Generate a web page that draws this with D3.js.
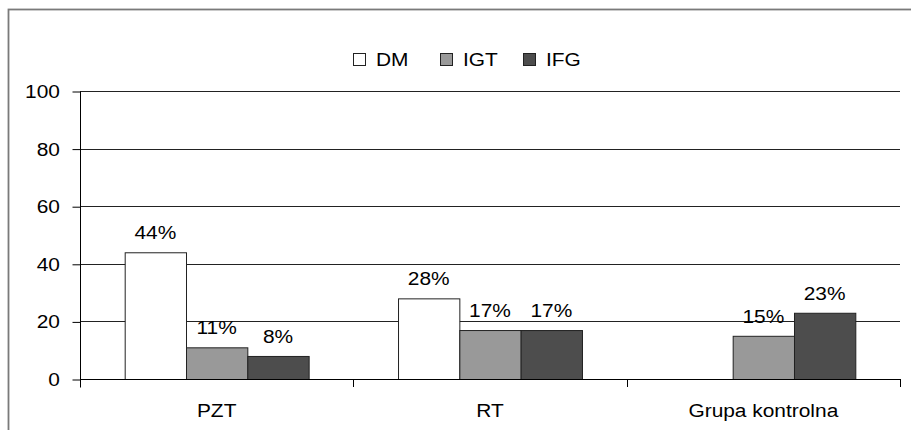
<!DOCTYPE html>
<html>
<head>
<meta charset="utf-8">
<script src="https://cdn.jsdelivr.net/npm/d3@7/dist/d3.min.js"></script>
<style>
  html, body { margin: 0; padding: 0; background: #fff; }
  svg { display: block; }
  text { font-family: Arial, "Liberation Sans", sans-serif; fill: #000; }
</style>
</head>
<body>
<svg id="chart" width="911" height="430"></svg>
<script>
// Groups on the x axis
const categories = ["PZT", "RT", "Grupa kontrolna"];
// Series names
const seriesNames = ["DM", "IGT", "IFG"];
// Percentages per group (null = no bar)
const dmValues  = [44, 28, null];
const igtValues = [11, 17, 15];
const ifgValues = [8, 17, 23];
// Y axis ticks
const yTicks = [0, 20, 40, 60, 80, 100];

const seriesColors = ["#ffffff", "#999999", "#4d4d4d"];
const seriesValues = [dmValues, igtValues, ifgValues];

const svg = d3.select("#chart");
const stretch = 1.1;

// text with slight horizontal stretch
function addText(g, x, y, str, size, anchor) {
  return g.append("text")
    .attr("transform", `translate(${x},${y}) scale(${stretch},1)`)
    .attr("text-anchor", anchor || "start")
    .style("font-size", size + "px")
    .text(str);
}

// outer frame
svg.append("rect")
  .attr("x", 8.5).attr("y", 9.5)
  .attr("width", 1000).attr("height", 1000)
  .attr("fill", "none")
  .attr("stroke", "#7a7a7a")
  .attr("stroke-width", 1.8);

const plot = { left: 80, right: 900, top: 91, bottom: 379 };

const y = d3.scaleLinear().domain([0, 100]).range([plot.bottom, plot.top]);
const x0 = d3.scaleBand().domain(categories).range([plot.left, plot.right]).padding(0);
const groupWidth = x0.bandwidth() * 0.673;
const x1 = d3.scaleBand().domain(seriesNames).range([0, groupWidth]).padding(0);

// gridlines
svg.append("g").selectAll("line")
  .data(yTicks.filter(d => d > 0))
  .join("line")
  .attr("x1", plot.left).attr("x2", plot.right)
  .attr("y1", d => Math.round(y(d)) + 0.5).attr("y2", d => Math.round(y(d)) + 0.5)
  .attr("stroke", "#222").attr("stroke-width", 1);

// y axis
const yAxis = d3.axisLeft(y).tickValues(yTicks).tickSize(8).tickPadding(12);
const yg = svg.append("g").attr("transform", `translate(${plot.left + 0.5},0.5)`).call(yAxis);
yg.select(".domain").attr("stroke", "#000").attr("d", `M0,${plot.top}V${plot.bottom + 8}`);
yg.selectAll(".tick line").attr("stroke", "#000");
yg.selectAll(".tick text").remove();
yTicks.forEach(t => {
  addText(svg, 60, y(t) + 7, String(t), 19, "end");
});

// bars
const groups = svg.append("g").selectAll("g")
  .data(categories)
  .join("g")
  .attr("transform", d => `translate(${x0(d) + (x0.bandwidth() - groupWidth) / 2},0)`);

groups.each(function (cat, ci) {
  const g = d3.select(this);
  seriesNames.forEach((s, si) => {
    const v = seriesValues[si][ci];
    if (v == null) return;
    g.append("rect")
      .attr("x", x1(s) + 0.5)
      .attr("y", y(v) + 0.5)
      .attr("width", x1.bandwidth())
      .attr("height", y(0) - y(v))
      .attr("fill", seriesColors[si])
      .attr("stroke", "#222")
      .attr("stroke-width", 1);
    addText(g, x1(s) + x1.bandwidth() / 2, y(v) - 13, v + "%", 19, "middle");
  });
});

// x axis
svg.append("line")
  .attr("x1", plot.left).attr("x2", plot.right)
  .attr("y1", plot.bottom + 0.5).attr("y2", plot.bottom + 0.5)
  .attr("stroke", "#000");
const bounds = categories.map(c => x0(c)).concat([plot.right]);
svg.append("g").selectAll("line")
  .data(bounds)
  .join("line")
  .attr("x1", d => Math.round(d) + 0.5).attr("x2", d => Math.round(d) + 0.5)
  .attr("y1", plot.bottom).attr("y2", plot.bottom + 8)
  .attr("stroke", "#000");
categories.forEach(c => {
  addText(svg, x0(c) + x0.bandwidth() / 2, 417, c, 19, "middle");
});

// legend
const legendX = [353, 440, 523];
seriesNames.forEach((s, i) => {
  svg.append("rect")
    .attr("x", legendX[i] + 0.5).attr("y", 53.5)
    .attr("width", 12).attr("height", 12)
    .attr("fill", seriesColors[i])
    .attr("stroke", "#222");
  addText(svg, legendX[i] + 23, 66, s, 19, "start");
});
</script>
</body>
</html>
